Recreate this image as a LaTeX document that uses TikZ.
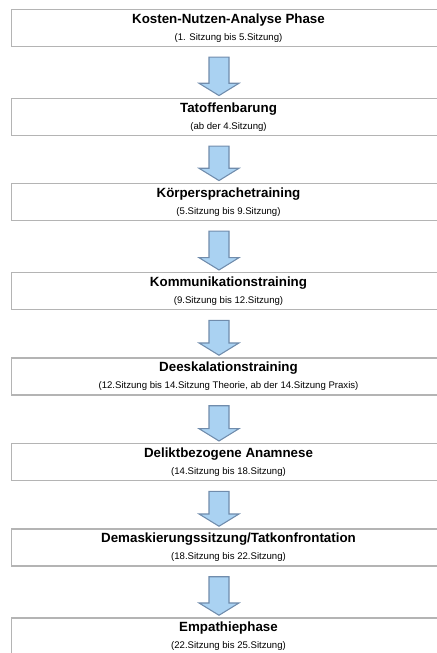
\documentclass[tikz,border=0pt]{standalone}
\usepackage{fontspec}
\setmainfont{Liberation Sans}
\usetikzlibrary{calc}

\tikzset{every picture/.style={line width=0.75pt}}
\tikzset{
  phasebox/.style={draw={rgb, 255:red, 180; green, 180; blue, 180 }, line width=1.1pt, fill=white,
    minimum width=325.5pt, minimum height=27.75pt, inner sep=0pt},
  phasetitle/.style={anchor=base, inner sep=0.75pt, font=\fontsize{10}{12}\selectfont\bfseries},
  phasenote/.style={anchor=base, inner sep=0.75pt, font=\fontsize{7.2}{9}\selectfont},
  downarrow/.style={draw={rgb, 255:red, 112; green, 140; blue, 172 }, fill={rgb, 255:red, 170; green, 210; blue, 242 },
    line width=0.8pt, line join=miter}
}
% block arrow from box #1 down to box #2
\newcommand{\phasearrow}[2]{%
  \draw [downarrow] ($(#1.south)+(-19.5,10)$) -- ($(#1.south)+(0.5,10)$) -- ($(#2.north)+(0.5,-14.3)$)
    -- ($(#2.north)+(10.5,-14.3)$) -- ($(#2.north)+(-9.5,-2)$) -- ($(#2.north)+(-29.5,-14.3)$)
    -- ($(#2.north)+(-19.5,-14.3)$) -- cycle ;}

\begin{document}
\begin{tikzpicture}[x=0.75pt,y=0.75pt,yscale=-1,xscale=1]
%set diagram left start at 0, and has height of 653
\useasboundingbox (0,0) rectangle (436,653);

%Shape: Rectangle [id:phase1] 
\node [phasebox] (p1) at (228.5,27.8) {};
%Shape: Rectangle [id:phase2] 
\node [phasebox] (p2) at (228.5,116.8) {};
%Shape: Rectangle [id:phase3] 
\node [phasebox] (p3) at (228.5,201.8) {};
%Shape: Rectangle [id:phase4] 
\node [phasebox] (p4) at (228.5,291.2) {};
%Shape: Rectangle [id:phase5] 
\node [phasebox] (p5) at (228.5,376.5) {};
%Shape: Rectangle [id:phase6] 
\node [phasebox] (p6) at (228.5,462.2) {};
%Shape: Rectangle [id:phase7] 
\node [phasebox] (p7) at (228.5,547.5) {};
%Shape: Rectangle [id:phase8] 
\node [phasebox] (p8) at (228.5,636.5) {};

% Text Node
\node [phasetitle] (t1) at ($(p1.north)+(0,14.5)$) {Kosten-Nutzen-Analyse Phase};
\node [phasenote] (n1) at ($(p1.north)+(0,31.5)$) {(1. Sitzung bis 5.Sitzung)};
% Text Node
\node [phasetitle] (t2) at ($(p2.north)+(0,14.5)$) {Tatoffenbarung};
\node [phasenote] (n2) at ($(p2.north)+(0,31.5)$) {(ab der 4.Sitzung)};
% Text Node
\node [phasetitle] (t3) at ($(p3.north)+(0,14.5)$) {Körpersprachetraining};
\node [phasenote] (n3) at ($(p3.north)+(0,31.5)$) {(5.Sitzung bis 9.Sitzung)};
% Text Node
\node [phasetitle] (t4) at ($(p4.north)+(0,14.5)$) {Kommunikationstraining};
\node [phasenote] (n4) at ($(p4.north)+(0,31.5)$) {(9.Sitzung bis 12.Sitzung)};
% Text Node
\node [phasetitle] (t5) at ($(p5.north)+(0,14.5)$) {Deeskalationstraining};
\node [phasenote] (n5) at ($(p5.north)+(0,31.5)$) {(12.Sitzung bis 14.Sitzung Theorie, ab der 14.Sitzung Praxis)};
% Text Node
\node [phasetitle] (t6) at ($(p6.north)+(0,14.5)$) {Deliktbezogene Anamnese};
\node [phasenote] (n6) at ($(p6.north)+(0,31.5)$) {(14.Sitzung bis 18.Sitzung)};
% Text Node
\node [phasetitle] (t7) at ($(p7.north)+(0,14.5)$) {Demaskierungssitzung/Tatkonfrontation};
\node [phasenote] (n7) at ($(p7.north)+(0,31.5)$) {(18.Sitzung bis 22.Sitzung)};
% Text Node
\node [phasetitle] (t8) at ($(p8.north)+(0,14.5)$) {Empathiephase};
\node [phasenote] (n8) at ($(p8.north)+(0,31.5)$) {(22.Sitzung bis 25.Sitzung)};

% Connection
\phasearrow{p1}{p2}
% Connection
\phasearrow{p2}{p3}
% Connection
\phasearrow{p3}{p4}
% Connection
\phasearrow{p4}{p5}
% Connection
\phasearrow{p5}{p6}
% Connection
\phasearrow{p6}{p7}
% Connection
\phasearrow{p7}{p8}

\end{tikzpicture}
\end{document}
